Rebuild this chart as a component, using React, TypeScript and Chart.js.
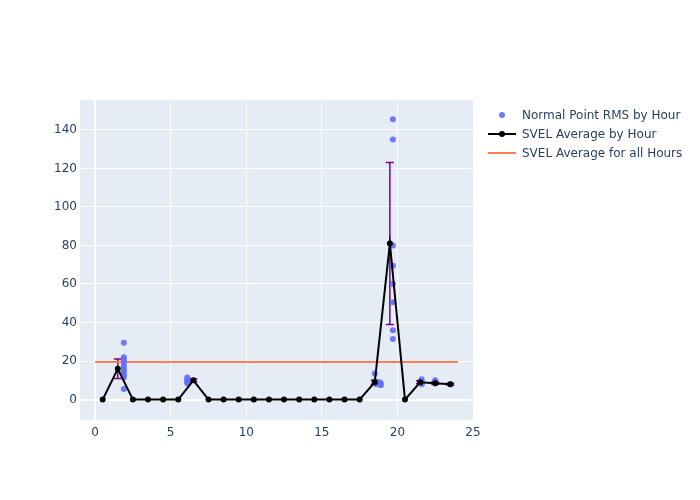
import React, { useEffect, useRef } from "react";
import { Chart, registerables } from "chart.js";
Chart.register(...registerables);

const hours = [0.5, 1.5, 2.5, 3.5, 4.5, 5.5, 6.5, 7.5, 8.5, 9.5, 10.5, 11.5, 12.5, 13.5, 14.5, 15.5, 16.5, 17.5, 18.5, 19.5, 20.5, 21.5, 22.5, 23.5];
const avgByHour = [0, 16, 0, 0, 0, 0, 10, 0, 0, 0, 0, 0, 0, 0, 0, 0, 0, 0, 9, 81, 0, 9, 8.5, 8];
const errByHour = [0, 5, 0, 0, 0, 0, 0.8, 0, 0, 0, 0, 0, 0, 0, 0, 0, 0, 0, 1, 42, 0, 0.8, 0.6, 0.5];

const rmsX = [1.9, 1.9, 1.9, 1.9, 1.9, 1.9, 1.9, 1.9, 1.9, 1.9, 1.9,
  6.1, 6.1, 6.1, 6.1, 6.1,
  18.5, 18.5, 18.6, 18.8, 18.9, 18.9,
  19.7, 19.7, 19.7, 19.7, 19.7, 19.7, 19.7, 19.7,
  21.6, 21.6, 21.6, 22.5, 22.5, 22.5, 23.5];
const rmsY = [29.5, 22, 21, 19.5, 18, 16.5, 15, 13.5, 12.5, 11.5, 5.5,
  11.5, 10.5, 9.5, 9, 8.5,
  13.5, 9.5, 8, 9, 8.5, 7.5,
  145.5, 135, 80, 69.5, 60, 50.5, 36, 31.5,
  10.5, 9, 8, 10, 9, 8.5, 8];

const allHoursAvg = 19.5;
const allHoursX = [0, 24];

const xTicks = [0, 5, 10, 15, 20, 25];
const yTicks = [0, 20, 40, 60, 80, 100, 120, 140];

const FONT = "'DejaVu Sans', verdana, arial, sans-serif";
const TXT = "#2a3f5f";

const bgPlugin = {
  id: "bgPlot",
  beforeDraw(chart: any) {
    const { ctx, chartArea: a } = chart;
    ctx.save();
    ctx.fillStyle = "#E5ECF6";
    ctx.fillRect(a.left, a.top, a.right - a.left, a.bottom - a.top);
    ctx.restore();
  },
};

const errPlugin = {
  id: "errBars",
  beforeDatasetsDraw(chart: any) {
    const { ctx, scales } = chart;
    const xs = scales.x, ys = scales.y;
    ctx.save();
    ctx.strokeStyle = "#800080";
    ctx.lineWidth = 1.5;
    hours.forEach((h, i) => {
      const e = errByHour[i];
      if (e <= 0) return;
      const px = xs.getPixelForValue(h);
      const top = ys.getPixelForValue(avgByHour[i] + e);
      const bot = ys.getPixelForValue(avgByHour[i] - e);
      ctx.beginPath();
      ctx.moveTo(px, top); ctx.lineTo(px, bot);
      ctx.moveTo(px - 4, top); ctx.lineTo(px + 4, top);
      ctx.moveTo(px - 4, bot); ctx.lineTo(px + 4, bot);
      ctx.stroke();
    });
    ctx.restore();
  },
};

export default function App() {
  const ref = useRef<HTMLCanvasElement>(null);
  useEffect(() => {
    const chart = new Chart(ref.current!, {
      type: "scatter",
      data: {
        datasets: [
          {
            label: "SVEL Average for all Hours",
            data: allHoursX.map((x) => ({ x, y: allHoursAvg })),
            showLine: true,
            borderColor: "#ff7f50",
            borderWidth: 2,
            pointRadius: 0,
            order: 3,
          },
          {
            label: "Normal Point RMS by Hour",
            data: rmsX.map((x, i) => ({ x, y: rmsY[i] })),
            backgroundColor: "rgba(99,110,250,0.9)",
            borderWidth: 0,
            pointRadius: 3,
            order: 2,
          },
          {
            label: "SVEL Average by Hour",
            data: hours.map((x, i) => ({ x, y: avgByHour[i] })),
            showLine: true,
            borderColor: "#000000",
            backgroundColor: "#000000",
            borderWidth: 2,
            pointRadius: 3,
            pointBorderWidth: 0,
            order: 1,
          },
        ],
      },
      options: {
        animation: false,
        responsive: false,
        layout: { padding: { left: 0, top: 100, right: 227, bottom: 0 } },
        plugins: { legend: { display: false }, tooltip: { enabled: false } },
        scales: {
          x: {
            min: -1,
            max: 25,
            afterBuildTicks: (s: any) => { s.ticks = xTicks.map((v) => ({ value: v })); },
            afterFit: (s: any) => { s.height = 80; },
            grid: { color: "#ffffff", lineWidth: (c: any) => (c.tick && c.tick.value === 0 ? 2 : 1), drawTicks: false },
            border: { display: false },
            ticks: { color: TXT, font: { family: FONT, size: 12 }, padding: 6, maxRotation: 0 },
          },
          y: {
            min: -10.6,
            max: 155.5,
            afterBuildTicks: (s: any) => { s.ticks = yTicks.map((v) => ({ value: v })); },
            afterFit: (s: any) => { s.width = 80; },
            grid: { color: "#ffffff", lineWidth: (c: any) => (c.tick && c.tick.value === 0 ? 2 : 1), drawTicks: false },
            border: { display: false },
            ticks: { color: TXT, font: { family: FONT, size: 12 }, padding: 3 },
          },
        },
      },
      plugins: [bgPlugin, errPlugin],
    });
    return () => chart.destroy();
  }, []);

  const row = (top: number, marker: React.ReactNode, text: string) => (
    <div style={{ position: "absolute", left: 488, top, height: 16, display: "flex", alignItems: "center", fontFamily: FONT, fontSize: 12, color: TXT, whiteSpace: "nowrap" }}>
      <div style={{ width: 28, height: 16, position: "relative", marginRight: 6 }}>{marker}</div>
      {text}
    </div>
  );

  return (
    <div style={{ position: "fixed", left: 0, top: 0, width: 700, height: 500, background: "#ffffff" }}>
      <canvas ref={ref} width={700} height={500} style={{ position: "absolute", left: 0, top: 0 }} />
      {row(107,
        <div style={{ position: "absolute", left: 11, top: 5, width: 6, height: 6, borderRadius: 3, background: "rgba(99,110,250,0.9)" }} />,
        "Normal Point RMS by Hour")}
      {row(126,
        <>
          <div style={{ position: "absolute", left: 0, top: 7, width: 28, height: 2, background: "#000" }} />
          <div style={{ position: "absolute", left: 11, top: 5, width: 6, height: 6, borderRadius: 3, background: "#000" }} />
        </>,
        "SVEL Average by Hour")}
      {row(145,
        <div style={{ position: "absolute", left: 0, top: 7, width: 28, height: 2, background: "#ff7f50" }} />,
        "SVEL Average for all Hours")}
    </div>
  );
}
